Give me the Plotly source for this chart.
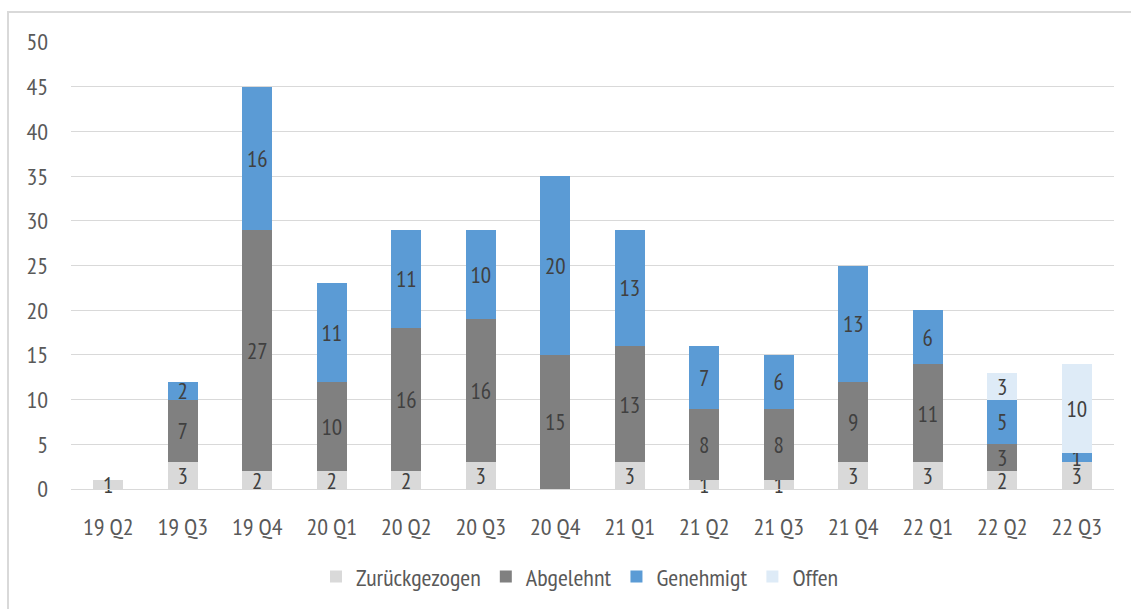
import plotly.graph_objects as go

categories = ["19 Q2", "19 Q3", "19 Q4", "20 Q1", "20 Q2", "20 Q3", "20 Q4",
              "21 Q1", "21 Q2", "21 Q3", "21 Q4", "22 Q1", "22 Q2", "22 Q3"]
zurueckgezogen = [1, 3, 2, 2, 2, 3, 0, 3, 1, 1, 3, 3, 2, 3]
abgelehnt = [0, 7, 27, 10, 16, 16, 15, 13, 8, 8, 9, 11, 3, 0]
genehmigt = [0, 2, 16, 11, 11, 10, 20, 13, 7, 6, 13, 6, 5, 1]
offen = [0, 0, 0, 0, 0, 0, 0, 0, 0, 0, 0, 0, 3, 10]

series = [
    ("Zurückgezogen", zurueckgezogen, "#d9d9d9"),
    ("Abgelehnt", abgelehnt, "#808080"),
    ("Genehmigt", genehmigt, "#5b9bd5"),
    ("Offen", offen, "#deebf7"),
]

FONT = "Liberation Sans Narrow, PT Sans Narrow, Roboto, sans-serif"

fig = go.Figure()
for name, vals, color in series:
    fig.add_trace(go.Bar(
        name=name, x=categories, y=vals,
        marker=dict(color=color, line=dict(width=0)),
        text=[str(v) if v else "" for v in vals],
        textposition="inside", insidetextanchor="middle",
        textangle=0,
        textfont=dict(color="#404040", size=23, family=FONT),
        cliponaxis=False,
    ))

W, H = 1131, 609
L, R, T, B = 71, 17, 42, 120
pw, ph = W - L - R, H - T - B

fig.update_layout(
    barmode="stack",
    bargap=0.6,
    width=W, height=H,
    margin=dict(l=L, r=R, t=T, b=B, autoexpand=False),
    paper_bgcolor="white", plot_bgcolor="white",
    font=dict(family=FONT, color="#595959", size=24),
    uniformtext=dict(minsize=23, mode="show"),
    legend=dict(orientation="h", x=(580 - L) / pw, xanchor="center", y=(489 - 577) / ph,
                yanchor="middle", font=dict(size=24, color="#595959"),
                traceorder="normal", itemwidth=30),
    xaxis=dict(showgrid=False, showline=True, linecolor="#d9d9d9", linewidth=1,
               automargin=False,
               ticks="", ticklabelstandoff=16, tickfont=dict(size=24, color="#595959")),
    yaxis=dict(range=[0, 50], dtick=5, gridcolor="#d9d9d9", gridwidth=1,
               automargin=False,
               zeroline=False, showline=False, ticks="", ticklabelstandoff=22,
               tickfont=dict(size=24, color="#595959")),
    shapes=[dict(type="rect", xref="paper", yref="paper",
                 x0=(8 - L) / pw, x1=(W + 5 - L) / pw,
                 y0=-(H + 5 - T - ph) / ph, y1=1 + (T - 12) / ph,
                 line=dict(color="#d9d9d9", width=2), fillcolor="rgba(0,0,0,0)",
                 layer="below")],
)

fig.write_html("out.html")
